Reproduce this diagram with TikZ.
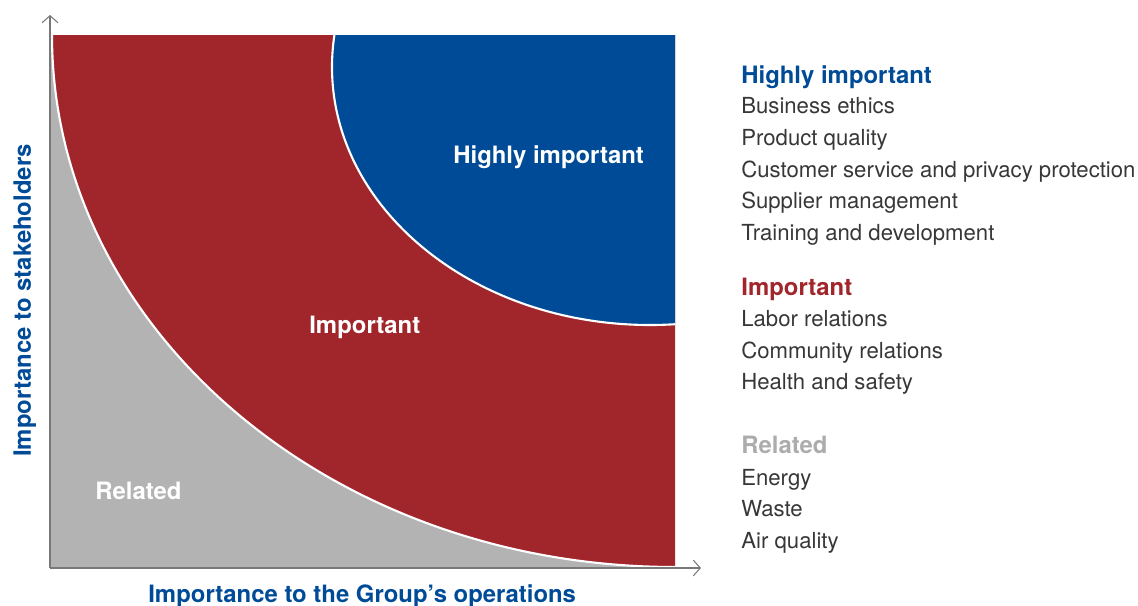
\documentclass[tikz,border=0pt]{standalone}
\usepackage{fontspec}
\setmainfont{TeX Gyre Heros}
\usepackage{tikz}
\usetikzlibrary{arrows.meta}

\definecolor{hiblue}{RGB}{0,75,151}
\definecolor{impred}{RGB}{161,38,44}
\definecolor{relgray}{RGB}{179,179,179}
\definecolor{relhead}{RGB}{172,172,172}
\definecolor{axisgray}{RGB}{120,120,120}
\definecolor{itemgray}{RGB}{55,55,55}

\tikzset{
    zonelabel/.style={anchor=base west, inner sep=0, text=white, font=\fontsize{13.6}{16}\selectfont\bfseries},
    axislabel/.style={anchor=base west, inner sep=0, text=hiblue, font=\fontsize{13.6}{16}\selectfont\bfseries},
    legendhead/.style={anchor=base west, inner sep=0, font=\fontsize{13.6}{16}\selectfont\bfseries},
    legenditem/.style={anchor=base west, inner sep=0, text=itemgray, font=\fontsize{12.6}{15}\selectfont},
}

\begin{document}
\begin{tikzpicture}[x=0.02cm, y=-0.02cm]
    \useasboundingbox (0,0) rectangle (1138,605);

    % zones
    \begin{scope}
        \clip (51,35) rectangle (675,567);
        \fill[relgray] (51,35) rectangle (675,567);
        \filldraw[fill=impred, draw=white, line width=1.2pt] (675,35) ellipse [x radius=623, y radius=532];
        \filldraw[fill=hiblue, draw=white, line width=1.2pt] (650,67) ellipse [x radius=318, y radius=258];
    \end{scope}

    \node[zonelabel] (hizone) at (453,163) {Highly important};
    \node[zonelabel] (impzone) at (309,333) {Important};
    \node[zonelabel] (relzone) at (95,499) {Related};

    % axes
    \coordinate (orig) at (50,568);
    \coordinate (ytip) at (50,15);
    \coordinate (xtip) at (701,568);
    \draw[->, >={Straight Barb[length=4pt,width=9pt]}, axisgray, line width=0.6pt] (orig) -- (ytip);
    \draw[->, >={Straight Barb[length=4pt,width=9pt]}, axisgray, line width=0.6pt] (orig) -- (xtip);

    \node[axislabel, rotate=90] (ylab) at (31,457) {Importance to stakeholders};
    \node[axislabel] (xlab) at (148,602) {Importance to the Group’s operations};

    % legend
    \node[legendhead, text=hiblue] (hihead) at (741,83) {Highly important};
    \node[legenditem] (ethics) at (741,113) {Business ethics};
    \node[legenditem] (quality) at (741,145) {Product quality};
    \node[legenditem] (privacy) at (741,177) {Customer service and privacy protection};
    \node[legenditem] (supplier) at (741,208) {Supplier management};
    \node[legenditem] (training) at (741,240) {Training and development};

    \node[legendhead, text=impred] (imphead) at (741,295) {Important};
    \node[legenditem] (labor) at (741,326) {Labor relations};
    \node[legenditem] (community) at (741,358) {Community relations};
    \node[legenditem] (health) at (741,389) {Health and safety};

    \node[legendhead, text=relhead] (relhead) at (741,453) {Related};
    \node[legenditem] (energy) at (741,485) {Energy};
    \node[legenditem] (waste) at (741,516) {Waste};
    \node[legenditem] (air) at (741,548) {Air quality};
\end{tikzpicture}
\end{document}
